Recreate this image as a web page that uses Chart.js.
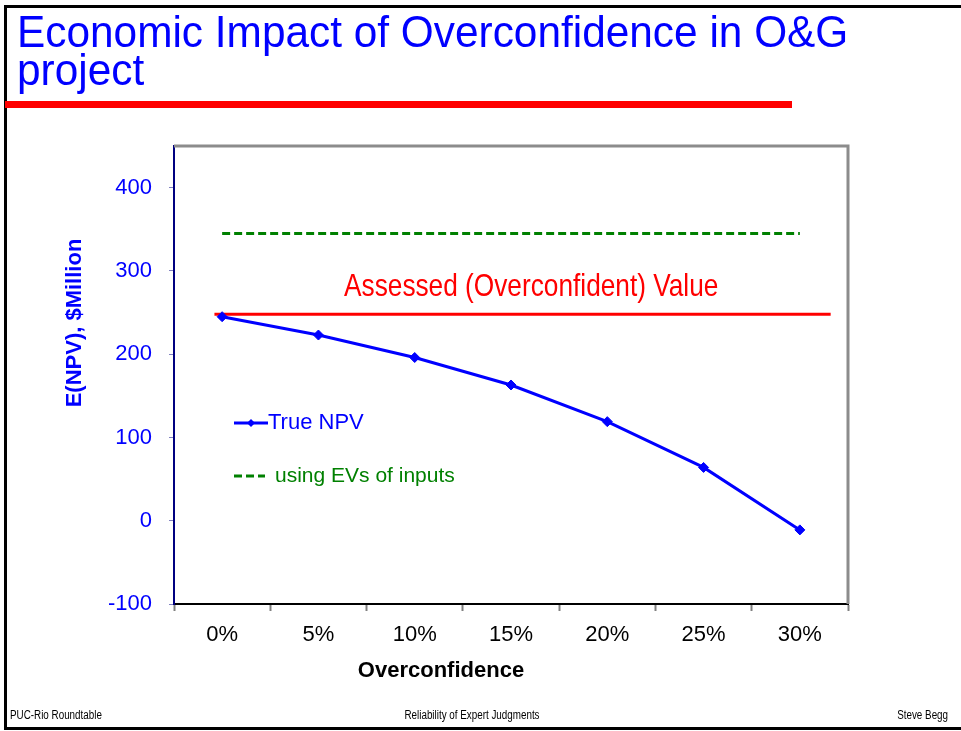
<!DOCTYPE html>
<html><head><meta charset="utf-8">
<script src="https://cdn.jsdelivr.net/npm/chart.js@4/dist/chart.umd.min.js"></script>
<style>
html,body{margin:0;padding:0;background:#fff;}
#wrap{position:relative;width:961px;height:731px;overflow:hidden;background:#fff;}
#frame{position:absolute;left:4px;top:5px;width:980px;height:719px;border:3px solid #000;border-right:none;}
#title{position:absolute;left:17px;top:13px;font-family:'Liberation Sans',Arial,sans-serif;font-size:44px;line-height:38px;color:#0000FF;white-space:nowrap;z-index:3;transform:scaleX(0.963);transform-origin:0 0;}
#bar{position:absolute;left:5px;top:101px;width:787px;height:7px;background:#FF0000;z-index:3;}
.foot{position:absolute;top:708px;font-family:'Liberation Sans',Arial,sans-serif;font-size:12px;line-height:14px;color:#000;white-space:nowrap;z-index:3;}
canvas{position:absolute;left:0;top:0;z-index:2;}
</style>
</head>
<body>
<div id="wrap">
  <div id="frame"></div>
  <div id="title">Economic Impact of Overconfidence in O&amp;G<br>project</div>
  <div id="bar"></div>
  <div class="foot" style="left:10px;transform:scaleX(0.82);transform-origin:0 0;">PUC-Rio Roundtable</div>
  <div class="foot" style="left:472px;transform:translateX(-50%) scaleX(0.82);transform-origin:50% 0;">Reliability of Expert Judgments</div>
  <div class="foot" style="right:13px;transform:scaleX(0.82);transform-origin:100% 0;">Steve Begg</div>
  <canvas id="c" width="961" height="731"></canvas>
</div>
<script>
// ---- data ----
const categories = ['0%', '5%', '10%', '15%', '20%', '25%', '30%'];
const trueNPV = [245, 223, 196, 163, 119, 64, -11];
const evInputs = [345, 345, 345, 345, 345, 345, 345];
const assessedValue = 248;
const assessedSpan = [-0.08, 6.32];
const yTickValues = [-100, 0, 100, 200, 300, 400];
const assessedLabel = 'Assessed (Overconfident) Value';
const assessedLabelPos = { x: 3.21, y: 281 };
const legendLabels = ['True NPV', 'using EVs of inputs'];
const yTitle = 'E(NPV), $Million';
const xTitle = 'Overconfidence';

const SANS = "'Liberation Sans', Arial, sans-serif";

const decor = {
  id: 'decor',
  afterDraw(chart) {
    const ctx = chart.ctx;
    const a = chart.chartArea;
    const x2 = chart.scales.x2, y = chart.scales.y;
    ctx.save();
    // top & right plot border
    ctx.strokeStyle = '#8c8c8c';
    ctx.lineWidth = 3;
    ctx.beginPath();
    ctx.moveTo(a.left, a.top);
    ctx.lineTo(a.right, a.top);
    ctx.lineTo(a.right, a.bottom);
    ctx.stroke();

    // assessed label (condensed)
    ctx.save();
    ctx.translate(x2.getPixelForValue(assessedLabelPos.x), y.getPixelForValue(assessedLabelPos.y));
    ctx.scale(0.82, 1);
    ctx.fillStyle = '#FF0000';
    ctx.font = '32px ' + SANS;
    ctx.textAlign = 'center';
    ctx.textBaseline = 'middle';
    ctx.fillText(assessedLabel, 0, 0);
    ctx.restore();

    ctx.textBaseline = 'middle';
    // legend
    const lx = a.left + 60;
    const ly1 = a.top + 277, ly2 = a.top + 330;
    ctx.strokeStyle = '#0000FF';
    ctx.lineWidth = 3;
    ctx.beginPath(); ctx.moveTo(lx, ly1); ctx.lineTo(lx + 34, ly1); ctx.stroke();
    ctx.fillStyle = '#0000FF';
    ctx.beginPath();
    ctx.moveTo(lx + 17, ly1 - 4); ctx.lineTo(lx + 21, ly1); ctx.lineTo(lx + 17, ly1 + 4); ctx.lineTo(lx + 13, ly1);
    ctx.closePath(); ctx.fill();
    ctx.font = '22px ' + SANS;
    ctx.textAlign = 'left';
    ctx.fillText(legendLabels[0], lx + 34, ly1);

    ctx.strokeStyle = '#008000';
    ctx.setLineDash([8, 4]);
    ctx.beginPath(); ctx.moveTo(lx, ly2); ctx.lineTo(lx + 31, ly2); ctx.stroke();
    ctx.setLineDash([]);
    ctx.fillStyle = '#008000';
    ctx.font = '21px ' + SANS;
    ctx.fillText(legendLabels[1], lx + 41, ly2);

    // axis titles
    ctx.fillStyle = '#000000';
    ctx.font = 'bold 22px ' + SANS;
    ctx.textAlign = 'center';
    ctx.fillText(xTitle, 441, 671);

    ctx.save();
    ctx.translate(75, 323);
    ctx.rotate(-Math.PI / 2);
    ctx.fillStyle = '#0000FF';
    ctx.fillText(yTitle, 0, 0);
    ctx.restore();
    ctx.restore();
  }
};

new Chart(document.getElementById('c'), {
  type: 'line',
  data: {
    labels: categories,
    datasets: [
      {
        label: legendLabels[0],
        data: trueNPV,
        borderColor: '#0000FF',
        backgroundColor: '#0000FF',
        borderWidth: 3,
        pointStyle: 'rectRot',
        pointRadius: 5,
        pointBorderWidth: 1,
        tension: 0,
        order: 1
      },
      {
        label: legendLabels[1],
        data: evInputs,
        borderColor: '#008000',
        borderWidth: 3,
        borderDash: [8, 4],
        pointRadius: 0,
        order: 3
      },
      {
        label: 'Assessed',
        data: assessedSpan.map(v => ({ x: v, y: assessedValue })),
        xAxisID: 'x2',
        borderColor: '#FF0000',
        borderWidth: 3,
        pointRadius: 0,
        order: 2
      }
    ]
  },
  options: {
    responsive: false,
    animation: false,
    layout: { padding: { left: 84, top: 146, right: 113, bottom: 67 } },
    plugins: { legend: { display: false }, tooltip: { enabled: false } },
    scales: {
      x: {
        type: 'category',
        offset: true,
        grid: { offset: true, drawOnChartArea: false, drawTicks: true, tickLength: 7, tickColor: '#808080', tickWidth: 2 },
        border: { color: '#000000', width: 2 },
        ticks: { color: '#000000', font: { size: 22, family: SANS }, padding: 11, maxRotation: 0 },
        afterFit: s => { s.height = 60; }
      },
      x2: {
        type: 'linear',
        display: false,
        min: -0.5,
        max: 6.5
      },
      y: {
        min: -100,
        max: 450,
        afterBuildTicks: s => { s.ticks = yTickValues.map(v => ({ value: v })); },
        grid: { drawOnChartArea: false, drawTicks: true, tickLength: 5, tickColor: '#8080c0' },
        border: { color: '#000080', width: 2 },
        ticks: {
          color: '#0000FF', font: { size: 22, family: SANS }, padding: 17,
          callback: v => (v < 0 ? '-' + Math.abs(v) : String(v))
        },
        afterFit: s => { s.width = 90; }
      }
    }
  },
  plugins: [decor]
});
</script>
</body></html>
